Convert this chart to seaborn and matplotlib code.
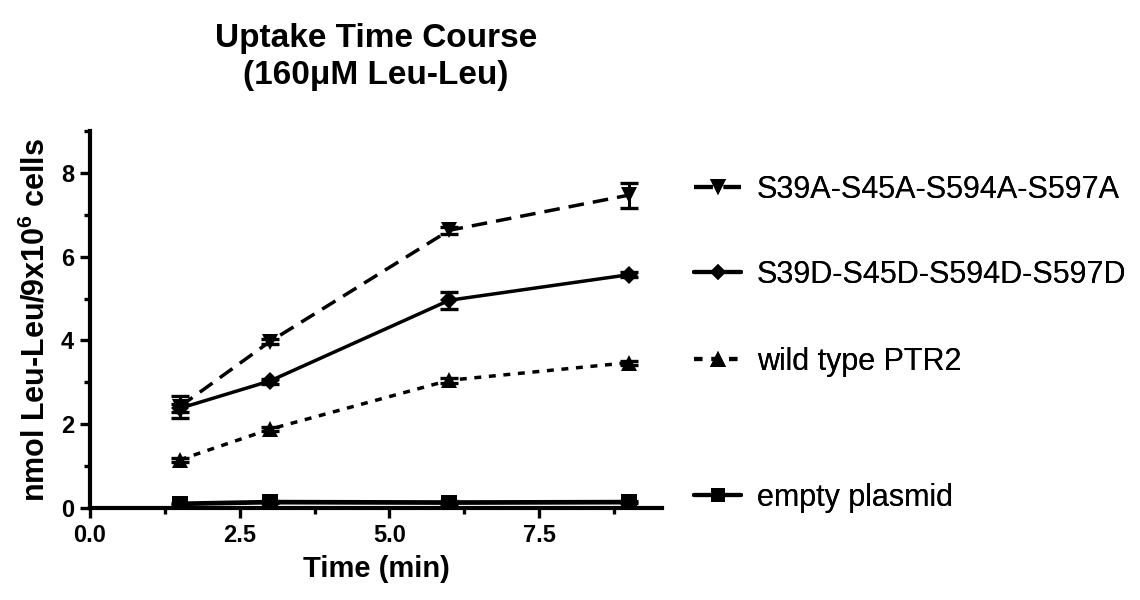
"""
Uptake time course for the PTR2 phospho-mutants (160 uM Leu-Leu).
Run: python plot.py  -> writes out.png
"""
import pandas as pd
import matplotlib.pyplot as plt
from matplotlib.lines import Line2D
from matplotlib.ticker import MultipleLocator
import seaborn as sns

OUT_FILE = "out.png"

# values
TIME_MIN = [1.5, 3.0, 6.0, 9.0]
S39A = [2.42, 3.97, 6.63, 7.47]
S39A_ERR = [0.26, 0.06, 0.08, 0.30]
S39D = [2.38, 3.03, 4.96, 5.57]
S39D_ERR = [0.10, 0.06, 0.20, 0.06]
WILD_TYPE = [1.15, 1.88, 3.05, 3.47]
WILD_TYPE_ERR = [0.05, 0.05, 0.06, 0.05]
EMPTY = [0.10, 0.14, 0.13, 0.14]
EMPTY_ERR = [0.03, 0.03, 0.03, 0.03]

LABELS = ["S39A-S45A-S594A-S597A", "S39D-S45D-S594D-S597D",
          "wild type PTR2", "empty plasmid"]
# y position (figure px from top) of each legend entry
LEGEND_Y_PX = [190, 275, 362, 498]

sns.set_style("ticks")
plt.rcParams["font.family"] = ["Liberation Sans", "DejaVu Sans"]
plt.rcParams["text.color"] = "black"
plt.rcParams["axes.labelcolor"] = "black"
plt.rcParams["xtick.color"] = "black"
plt.rcParams["ytick.color"] = "black"
plt.rcParams["axes.edgecolor"] = "black"
plt.rcParams["mathtext.fontset"] = "custom"
plt.rcParams["mathtext.rm"] = "Liberation Sans:bold"
plt.rcParams["mathtext.it"] = "Liberation Sans:bold"
plt.rcParams["mathtext.bf"] = "Liberation Sans:bold"

STYLE = {
    LABELS[0]: dict(marker="v", dashes=(4.5, 2.6), ms=12),
    LABELS[1]: dict(marker="D", dashes="", ms=9),
    LABELS[2]: dict(marker="^", dashes=(2.0, 2.2), ms=12),
    LABELS[3]: dict(marker="s", dashes="", ms=11),
}


def build_frame():
    rows = []
    for name, vals, errs in zip(LABELS, [S39A, S39D, WILD_TYPE, EMPTY],
                                [S39A_ERR, S39D_ERR, WILD_TYPE_ERR, EMPTY_ERR]):
        for t, v, e in zip(TIME_MIN, vals, errs):
            rows.append({"time": t, "uptake": v, "err": e, "strain": name})
    return pd.DataFrame(rows)


def fig_uptake_time_course(df):
    fig = plt.figure(figsize=(11.4, 6), dpi=100)
    ax = fig.add_axes([90 / 1140, 1 - 508 / 600, (662 - 90) / 1140, (508 - 131) / 600])

    sns.lineplot(data=df, x="time", y="uptake", hue="strain", style="strain",
                 palette=["black"] * 4, hue_order=LABELS, style_order=LABELS,
                 markers={k: v["marker"] for k, v in STYLE.items()},
                 dashes={k: v["dashes"] for k, v in STYLE.items()},
                 linewidth=2.5, markersize=10, markeredgewidth=0,
                 legend=False, ax=ax)
    # the empty plasmid trace is drawn heavier in the original
    for line in ax.lines:
        line.set_solid_capstyle("butt")
    ax.lines[3].set_linewidth(3.4)
    for line, name in zip(ax.lines, LABELS):
        line.set_markersize(STYLE[name]["ms"])

    for name in LABELS:
        sub = df[df["strain"] == name]
        ax.errorbar(sub["time"], sub["uptake"], yerr=sub["err"], fmt="none",
                    ecolor="black", elinewidth=2.2, capsize=6.5, capthick=2.4)

    ax.set_xlim(0, 9.55)
    ax.set_ylim(0, 9)
    ax.xaxis.set_major_locator(MultipleLocator(2.5))
    ax.xaxis.set_minor_locator(MultipleLocator(1.25))
    ax.yaxis.set_major_locator(MultipleLocator(2))
    ax.yaxis.set_minor_locator(MultipleLocator(1))
    ax.xaxis.set_major_formatter(plt.FormatStrFormatter("%.1f"))
    ax.tick_params(which="major", length=7.5, width=2.4, labelsize=17, pad=4)
    ax.tick_params(which="minor", length=4.5, width=2.4)
    for lab in ax.get_xticklabels() + ax.get_yticklabels():
        lab.set_fontweight("bold")
    for side in ["left", "bottom"]:
        ax.spines[side].set_linewidth(3)
    sns.despine(ax=ax)

    ax.set_xlabel("Time (min)", fontsize=21, fontweight="bold", labelpad=6)
    ax.set_ylabel("nmol Leu-Leu/9x10$^6$ cells", fontsize=22,
                  fontweight="bold", labelpad=7)
    ax.set_title("Uptake Time Course\n(160\u03bcM Leu-Leu)", fontsize=24,
                 fontweight="bold", linespacing=1.25, pad=34)

    # one legend per entry so the rows sit at the same heights as the original
    for name, ypx in zip(LABELS, LEGEND_Y_PX):
        st = STYLE[name]
        ls = "-" if st["dashes"] == "" else (0, st["dashes"])
        handle = Line2D([], [], color="black", lw=3, linestyle=ls,
                        marker=st["marker"], markersize=st["ms"] - 1,
                        markeredgewidth=0)
        leg = fig.legend([handle], [name], loc="center left",
                         bbox_to_anchor=(694 / 1140, 1 - ypx / 600),
                         frameon=False, fontsize=22, handlelength=1.55,
                         handletextpad=0.5, borderpad=0, borderaxespad=0)
        fig.add_artist(leg)

    fig.savefig(OUT_FILE, dpi=100)
    plt.close(fig)


if __name__ == "__main__":
    fig_uptake_time_course(build_frame())
